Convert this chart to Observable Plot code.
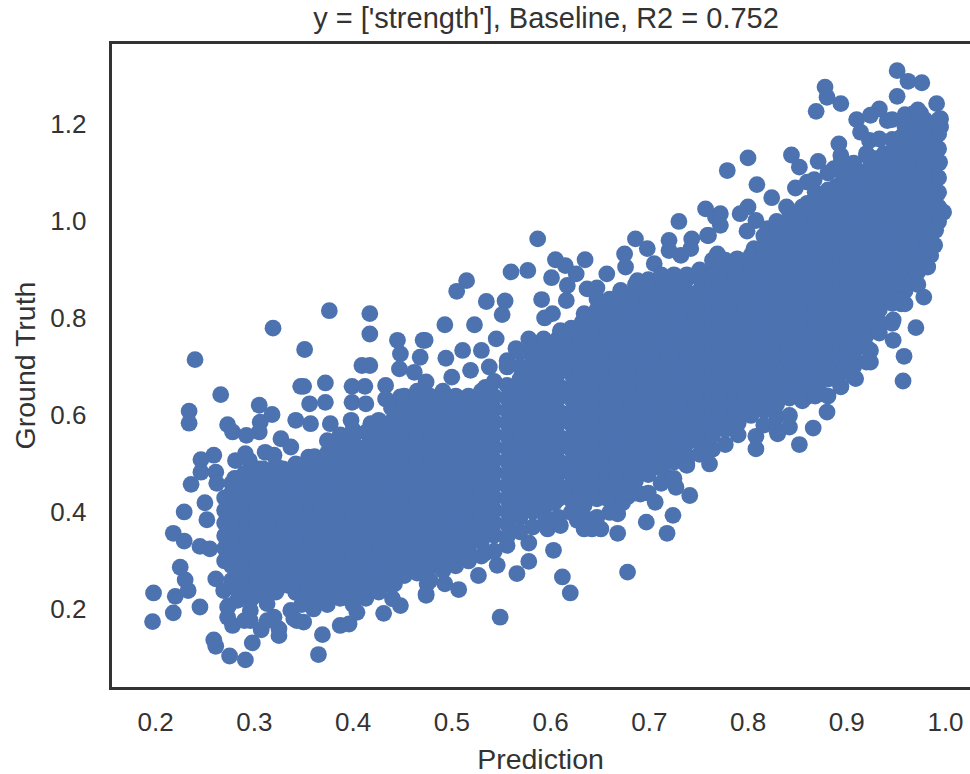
<!DOCTYPE html>
<html><head><meta charset="utf-8">
<script src="https://cdn.jsdelivr.net/npm/d3@7"></script>
<script src="https://cdn.jsdelivr.net/npm/@observablehq/plot@0.6"></script>
<style>
html,body{margin:0;padding:0;background:#fff}
#title{position:absolute;z-index:2;left:122px;width:848px;top:0;height:30px;text-align:center;font:29px "Liberation Sans",Arial,sans-serif;color:#333;line-height:36px;white-space:nowrap}
#chart{position:absolute;left:0;top:30px}
</style></head><body>
<div id="title"></div>
<div id="chart"></div>
<script>
const titleText = "y = ['strength'], Baseline, R2 = 0.752";
const xTicks = [0.2,0.3,0.4,0.5,0.6,0.7,0.8,0.9,1.0];
const yTicks = [0.2,0.4,0.6,0.8,1.0,1.2];

// scattered points, left side, upper edge
const leftPred = [.198,.197,.218,.220,.233,.230,.225,.245,.218,.229,.229,.236,.246,.259,.246,.261,.240,.234,.234,.266,.319,.351,.376,.417,.417,.445,.471,.448,.468,.409,.417,.447,.462,.347,.350,.372,.372,.356,.399,.412,.399,.413,.433,.433,.305,.318,.306,.305,.273,.278,.292,.342,.327,.337,.291,.311,.320,.281,.355,.245,.255,.252,.250,.262,.357,.377,.398,.418,.438,.391,.418,.458,.475,.448,.452,.295,.305,.280];
const leftTruth = [.234,.175,.193,.227,.239,.261,.287,.205,.357,.341,.401,.458,.509,.518,.483,.483,.715,.609,.584,.643,.780,.736,.816,.810,.768,.755,.755,.727,.720,.703,.703,.696,.689,.660,.660,.667,.627,.624,.660,.660,.627,.624,.662,.634,.621,.602,.586,.566,.581,.566,.559,.590,.552,.535,.521,.524,.518,.507,.514,.330,.325,.385,.420,.460,.583,.583,.590,.583,.576,.548,.548,.631,.638,.638,.597,.507,.490,.470];

// scattered points, left side, lower edge
const bottomPred = [.365,.369,.325,.325,.291,.275,.261,.259,.298,.307,.278,.273,.296,.320,.350,.340,.360,.387,.396,.404,.431,.448,.440,.474,.475,.261,.269,.274,.296,.425,.442,.452,.465,.283,.296,.313,.273,.290,.313,.337,.357,.374,.391,.401,.343];
const bottomTruth = [.107,.148,.146,.160,.096,.104,.124,.137,.131,.158,.167,.184,.177,.184,.174,.181,.201,.167,.170,.194,.192,.208,.222,.232,.253,.263,.239,.208,.219,.243,.253,.273,.294,.219,.198,.212,.205,.177,.177,.198,.219,.232,.225,.219,.177];

// scattered points, middle, upper edge
const midUpperPred = [.587,.560,.577,.515,.505,.535,.554,.551,.493,.523,.545,.473,.494,.511,.530,.538,.519,.534,.500,.474,.605,.615,.635,.626,.601,.616,.617,.591,.602,.594,.657,.637,.647,.676,.675,.686,.698,.730,.720,.720,.732,.743,.742,.757,.760,.767,.671,.688,.705,.610,.632,.593,.578,.565,.556];
const midUpperTruth = [.964,.896,.899,.878,.856,.835,.836,.808,.787,.787,.758,.755,.718,.734,.734,.700,.693,.658,.679,.669,.921,.909,.921,.892,.884,.837,.868,.839,.810,.801,.892,.861,.863,.906,.933,.964,.944,1.000,.961,.940,.930,.964,.944,1.026,.971,1.009,.858,.878,.913,.775,.792,.758,.758,.738,.713];

// scattered points, middle, lower edge
const midLowerPred = [.549,.620,.612,.678,.566,.578,.603,.578,.546,.527,.507,.474,.493,.533,.556,.668,.697,.718,.724,.741,.706,.727,.738,.761,.642,.597,.668,.610,.651,.634,.594,.627,.678,.691,.718,.756];
const midLowerTruth = [.184,.234,.267,.277,.274,.299,.322,.337,.291,.270,.241,.229,.253,.315,.332,.357,.380,.357,.394,.435,.421,.452,.497,.500,.366,.366,.397,.373,.366,.366,.377,.384,.432,.438,.473,.528];

// scattered points, upper right
const highPred = [.951,.962,.976,.951,.878,.880,.894,.869,.800,.779,.809,.824,.839,.844,.852,.871,.848,.860,.867,.892,.894,.887,.889,.910,.914,.923,.920,.933,.924,.941,.967,.991,.995,.995,.975,.989,.994,.992,.990,.998,.990,.989,.982,.978,.970,.958,.957,.947,.947,.955,.930,.924,.924,.909,.894,.874,.859,.880,.866,.852,.830,.842,.808,.808,.800,.772,.772,.759,.792,.800,.808,.799,.820,.806,.769,.789,.833,.860,.880,.914,.938,.955];
const highTruth = [1.311,1.289,1.286,1.258,1.277,1.256,1.243,1.227,1.131,1.105,1.076,1.049,1.030,1.137,1.112,1.124,1.069,1.081,1.086,1.160,1.136,1.109,1.071,1.210,1.184,1.167,1.136,1.232,1.219,1.208,1.222,1.243,1.212,1.195,1.222,1.150,1.122,1.091,1.050,1.019,.982,.951,.906,.844,.781,.722,.671,.755,.797,.830,.786,.734,.710,.676,.659,.645,.638,.607,.574,.540,.562,.576,.557,.531,.610,1.016,.992,.971,1.016,1.030,1.002,.980,.985,.944,.933,.923,.995,1.037,1.050,1.098,1.140,1.174];

// the solid mass, read column by column
const massPred = [.270,.283,.296,.309,.322,.335,.348,.361,.374,.387,.400,.413,.426,.439,.452,.465,.478,.491,.504,.517,.530,.543,.556,.569,.582,.595,.608,.621,.634,.647,.660,.673,.686,.699,.712,.725,.738,.751,.764,.777,.790,.803,.816,.829,.842,.855,.868,.881,.894,.907,.920,.933,.946,.959,.972,.985,.993];
const massTruth = [
[.30,.326,.352,.378,.404,.43],
[.24,.266,.292,.318,.344,.37,.396,.422,.448,.47],
[.22,.246,.272,.298,.324,.35,.376,.402,.428,.454,.48],
[.233,.259,.285,.311,.337,.363,.389,.415,.441,.467,.49],
[.236,.262,.288,.314,.34,.366,.392,.418,.444,.47,.496],
[.249,.275,.301,.327,.353,.379,.405,.431,.457,.483],
[.21,.236,.262,.288,.314,.34,.366,.392,.418,.444,.47,.496],
[.223,.249,.275,.301,.327,.353,.379,.405,.431,.457,.483,.515],
[.21,.236,.262,.288,.314,.34,.366,.392,.418,.444,.47,.496,.522,.548],
[.223,.249,.275,.301,.327,.353,.379,.405,.431,.457,.483,.509,.535,.56],
[.21,.236,.262,.288,.314,.34,.366,.392,.418,.444,.47,.496,.522,.548,.57],
[.223,.249,.275,.301,.327,.353,.379,.405,.431,.457,.483,.509,.535,.565],
[.236,.262,.288,.314,.34,.366,.392,.418,.444,.47,.496,.522,.548,.574,.59],
[.25,.275,.301,.327,.353,.379,.405,.431,.457,.483,.509,.535,.561,.587,.615],
[.27,.288,.314,.34,.366,.392,.418,.444,.47,.496,.522,.548,.574,.6,.626,.64],
[.275,.301,.327,.353,.379,.405,.431,.457,.483,.509,.535,.561,.587,.613,.639,.65],
[.26,.288,.314,.34,.366,.392,.418,.444,.47,.496,.522,.548,.574,.6,.626,.64],
[.28,.301,.327,.353,.379,.405,.431,.457,.483,.509,.535,.561,.587,.613,.639,.65],
[.29,.314,.34,.366,.392,.418,.444,.47,.496,.522,.548,.574,.6,.626,.64],
[.30,.327,.353,.379,.405,.431,.457,.483,.509,.535,.561,.587,.613,.64],
[.31,.34,.366,.392,.418,.444,.47,.496,.522,.548,.574,.6,.626,.65],
[.32,.353,.379,.405,.431,.457,.483,.509,.535,.561,.587,.613,.639,.67],
[.35,.376,.402,.428,.454,.48,.506,.532,.558,.584,.61,.636,.662,.70],
[.36,.389,.415,.441,.467,.493,.519,.545,.571,.597,.623,.649,.675,.701,.73],
[.37,.402,.428,.454,.48,.506,.532,.558,.584,.61,.636,.662,.688,.714,.74],
[.39,.415,.441,.467,.493,.519,.545,.571,.597,.623,.649,.675,.701,.727,.75],
[.39,.428,.454,.48,.506,.532,.558,.584,.61,.636,.662,.688,.714,.74,.76],
[.40,.426,.452,.478,.504,.53,.556,.582,.608,.634,.66,.686,.712,.738,.764,.78],
[.39,.415,.441,.467,.493,.519,.545,.571,.597,.623,.649,.675,.701,.727,.753,.779,.81],
[.39,.428,.454,.48,.506,.532,.558,.584,.61,.636,.662,.688,.714,.74,.766,.792,.818,.84],
[.40,.426,.452,.478,.504,.53,.556,.582,.608,.634,.66,.686,.712,.738,.764,.79,.816,.84],
[.42,.441,.467,.493,.519,.545,.571,.597,.623,.649,.675,.701,.727,.753,.779,.805,.831,.85],
[.44,.465,.491,.517,.543,.569,.595,.621,.647,.673,.699,.725,.751,.777,.803,.829,.855,.87],
[.44,.478,.504,.53,.556,.582,.608,.634,.66,.686,.712,.738,.764,.79,.816,.842,.868,.88],
[.46,.491,.517,.543,.569,.595,.621,.647,.673,.699,.725,.751,.777,.803,.829,.855,.881,.89],
[.47,.504,.53,.556,.582,.608,.634,.66,.686,.712,.738,.764,.79,.816,.842,.868,.89],
[.50,.517,.543,.569,.595,.621,.647,.673,.699,.725,.751,.777,.803,.829,.855,.881,.89],
[.52,.545,.571,.597,.623,.649,.675,.701,.727,.753,.779,.805,.831,.857,.883,.90],
[.53,.558,.584,.61,.636,.662,.688,.714,.74,.766,.792,.818,.844,.87,.896,.92],
[.54,.571,.597,.623,.649,.675,.701,.727,.753,.779,.805,.831,.857,.883,.909,.92],
[.56,.584,.61,.636,.662,.688,.714,.74,.766,.792,.818,.844,.87,.896,.92],
[.60,.623,.649,.675,.701,.727,.753,.779,.805,.831,.857,.883,.909,.93],
[.58,.61,.636,.662,.688,.714,.74,.766,.792,.818,.844,.87,.896,.922,.948,.97],
[.57,.597,.623,.649,.675,.701,.727,.753,.779,.805,.831,.857,.883,.909,.935,.961,.987,1.00],
[.60,.636,.662,.688,.714,.74,.766,.792,.818,.844,.87,.896,.922,.948,.974,1.00,1.02],
[.63,.649,.675,.701,.727,.753,.779,.805,.831,.857,.883,.909,.935,.961,.987,1.013,1.03],
[.64,.662,.688,.714,.74,.766,.792,.818,.844,.87,.896,.922,.948,.974,1.0,1.026,1.06],
[.64,.675,.701,.727,.753,.779,.805,.831,.857,.883,.909,.935,.961,.987,1.013,1.039,1.065,1.10],
[.66,.688,.714,.74,.766,.792,.818,.844,.87,.896,.922,.948,.974,1.0,1.026,1.052,1.078,1.104,1.12],
[.68,.701,.727,.753,.779,.805,.831,.857,.883,.909,.935,.961,.987,1.013,1.039,1.065,1.091,1.12],
[.71,.74,.766,.792,.818,.844,.87,.896,.922,.948,.974,1.0,1.026,1.052,1.078,1.104,1.14],
[.77,.792,.818,.844,.87,.896,.922,.948,.974,1.0,1.026,1.052,1.078,1.104,1.13,1.17],
[.79,.831,.857,.883,.909,.935,.961,.987,1.013,1.039,1.065,1.091,1.117,1.143,1.169,1.21],
[.83,.857,.883,.909,.935,.961,.987,1.013,1.039,1.065,1.091,1.117,1.143,1.169,1.195,1.22],
[.87,.896,.922,.948,.974,1.0,1.026,1.052,1.078,1.104,1.13,1.156,1.182,1.208,1.23],
[.93,.961,.987,1.013,1.039,1.065,1.091,1.117,1.143,1.169,1.195],
[1.0,1.03,1.06,1.09,1.12,1.15,1.18,1.21]
];

// more readings inside the mass, between the columns above
const innerPred = [.277,.290,.303,.316,.329,.342,.355,.368,.604,.615,.630,.641,.656,.667,.680,.693,.719,.745,.771,.797,.823,.849,.875,.901,.927,.953,.979];
const innerTruth = [
[.26,.29,.32,.35,.38,.41,.44,.46],
[.24,.27,.30,.33,.36,.39,.42,.45,.48],
[.23,.26,.29,.32,.35,.38,.41,.44,.47],
[.245,.275,.305,.335,.365,.395,.425,.455,.485],
[.25,.28,.31,.34,.37,.40,.43,.46,.49],
[.235,.265,.295,.325,.355,.385,.415,.445,.475,.50],
[.24,.27,.30,.33,.36,.39,.42,.45,.48],
[.23,.26,.29,.32,.35,.38,.41,.44,.47,.50],
[.42,.45,.48,.51,.54,.57,.60,.63,.66,.69,.72,.75],
[.45,.50,.55,.60,.65,.70,.74],
[.42,.45,.48,.51,.54,.57,.60,.63,.66,.69,.72,.75,.78],
[.44,.47,.50,.53,.56,.59,.62,.65,.68,.71,.74,.77],
[.43,.46,.49,.52,.55,.58,.61,.64,.67,.70,.73,.76,.79,.82],
[.45,.48,.51,.54,.57,.60,.63,.66,.69,.72,.75,.78,.81],
[.46,.49,.52,.55,.58,.61,.64,.67,.70,.73,.76,.79,.82,.84],
[.49,.52,.55,.58,.61,.64,.67,.70,.73,.76,.79,.82],
[.51,.54,.57,.60,.63,.66,.69,.72,.75,.78,.81,.84],
[.55,.58,.61,.64,.67,.70,.73,.76,.79,.82,.85],
[.58,.61,.64,.67,.70,.73,.76,.79,.82,.85,.88],
[.64,.67,.70,.73,.76,.79,.82,.85,.88],
[.62,.65,.68,.71,.74,.77,.80,.83,.86,.89,.92,.95],
[.67,.70,.73,.76,.79,.82,.85,.88,.91,.94,.97,1.00],
[.68,.71,.74,.77,.80,.83,.86,.89,.92,.95,.98,1.01,1.04],
[.71,.74,.77,.80,.83,.86,.89,.92,.95,.98,1.01,1.04,1.07,1.10],
[.80,.83,.86,.89,.92,.95,.98,1.01,1.04,1.07,1.10,1.13],
[.87,.90,.93,.96,.99,1.02,1.05,1.08,1.11,1.14,1.17],
[.94,.97,1.00,1.03,1.06,1.09,1.12,1.15,1.18,1.21]
];

const points = [
  ...leftPred.map((p,i)=>({p,t:leftTruth[i]})),
  ...bottomPred.map((p,i)=>({p,t:bottomTruth[i]})),
  ...midUpperPred.map((p,i)=>({p,t:midUpperTruth[i]})),
  ...midLowerPred.map((p,i)=>({p,t:midLowerTruth[i]})),
  ...highPred.map((p,i)=>({p,t:highTruth[i]})),
  ...massPred.flatMap((p,i)=>massTruth[i].map(t=>({p,t}))),
  ...innerPred.flatMap((p,i)=>innerTruth[i].map(t=>({p,t})))
];

const font = '"Liberation Sans", Arial, sans-serif';
const chart = Plot.plot({
  width: 970, height: 744,
  marginLeft: 110, marginRight: 0, marginTop: 12, marginBottom: 86,
  style: {fontFamily: font, color: "#333", background: "transparent"},
  x: {domain: [.1544, 1.0253]},
  y: {domain: [.037, 1.369]},
  marks: [
    Plot.dot(points, {x: "p", y: "t", r: 8.4, fill: "#4c72b0"}),
    Plot.axisX(xTicks, {anchor: "bottom", tickSize: 0, tickPadding: 24, tickFormat: ".1f", fontSize: 26, label: null}),
    Plot.axisY(yTicks, {anchor: "left", tickSize: 0, tickPadding: 24, tickFormat: ".1f", fontSize: 26, label: null}),
    Plot.axisX([], {anchor: "bottom", tickSize: 0, fontSize: 28.5, dx: 4, label: "Prediction", labelAnchor: "center", labelArrow: "none", labelOffset: 80}),
    Plot.axisY([], {anchor: "left", tickSize: 0, fontSize: 28.5, label: "Ground Truth", labelAnchor: "center", labelArrow: "none", labelOffset: 96}),
    Plot.frame({anchor: "left", stroke: "#333", strokeWidth: 3}),
    Plot.frame({anchor: "top", stroke: "#333", strokeWidth: 3}),
    Plot.frame({anchor: "bottom", stroke: "#333", strokeWidth: 3})
  ]
});
chart.style.overflow = "visible";
document.getElementById("chart").append(chart);
document.getElementById("title").textContent = titleText;
</script>
</body></html>
